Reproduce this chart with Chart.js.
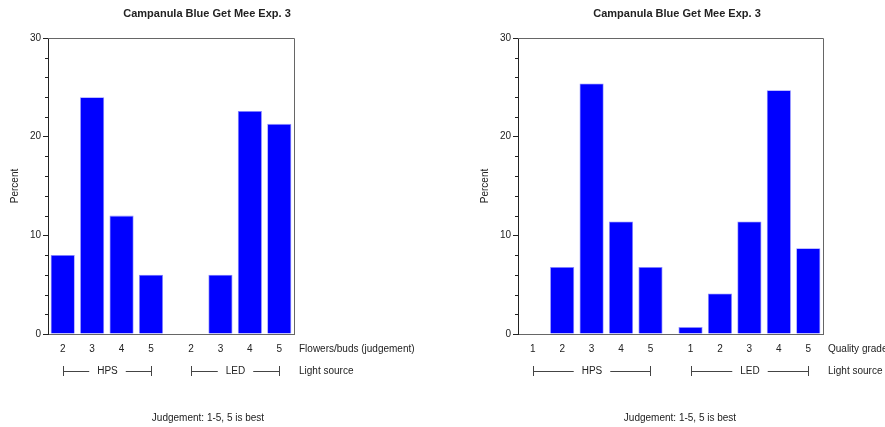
<!DOCTYPE html>
<html>
<head>
<meta charset="utf-8">
<script src="https://cdn.jsdelivr.net/npm/chart.js@4.4.0/dist/chart.umd.min.js"></script>
<style>
  body { margin: 0; background: #fff; width: 885px; height: 427px; position: relative; overflow: hidden; }
  canvas { position: absolute; top: 0; }
  #leftChart { left: 0; }
  #rightChart { left: 442px; }
</style>
</head>
<body>
<canvas id="leftChart" width="442" height="427"></canvas>
<canvas id="rightChart" width="443" height="427"></canvas>
<script>
// data
const chartTitle = "Campanula Blue Get Mee Exp. 3";
const footnote = "Judgement: 1-5, 5 is best";
const lightSources = ["HPS", "LED"];

const flowerGrades = ["2", "3", "4", "5"];
const flowerHPS = [8, 24, 12, 6];
const flowerLED = [0, 6, 22.6, 21.3];

const qualityGrades = ["1", "2", "3", "4", "5"];
const qualityHPS = [0, 6.8, 25.4, 11.4, 6.8];
const qualityLED = [0.7, 4.1, 11.4, 24.7, 8.7];

const yMax = 30;

const FONT = "'Liberation Sans', Arial, sans-serif";
const TEXT = "#222";
const GROUP_GAP = 0.36; // extra space between the HPS and LED blocks, in bar slots

const buildChart = (canvasId, grades, groupValues, gradeTitle, pad, titleX, noteX) => {
  const n = grades.length;
  const pos = (g, i) => g * (n + GROUP_GAP) + i;

  // bars as {x, y} so the linear x scale can leave a gap between the groups
  const points = [];
  const tickLabels = {};
  groupValues.forEach((vals, g) => {
    vals.forEach((v, i) => {
      points.push({ x: pos(g, i), y: v });
      tickLabels[pos(g, i).toFixed(2)] = grades[i];
    });
  });
  const tickValues = points.map((p) => p.x);

  const extras = {
    id: "extras",
    afterDraw(chart) {
      const { ctx, chartArea: a } = chart;
      const xs = chart.scales.x;
      const ys = chart.scales.y;
      ctx.save();
      // top and right frame
      ctx.strokeStyle = "#666";
      ctx.lineWidth = 1;
      ctx.beginPath();
      ctx.moveTo(a.left, a.top + 0.5);
      ctx.lineTo(a.right + 0.5, a.top + 0.5);
      ctx.lineTo(a.right + 0.5, a.bottom);
      ctx.stroke();

      // short minor ticks on the y axis
      ctx.strokeStyle = "#222";
      ctx.beginPath();
      ys.ticks.forEach((t) => {
        if (t.value % 10 === 0) return;
        const py = Math.round(ys.getPixelForValue(t.value)) + 0.5;
        ctx.moveTo(a.left - 3, py);
        ctx.lineTo(a.left, py);
      });
      ctx.stroke();

      ctx.fillStyle = TEXT;
      ctx.textBaseline = "middle";
      ctx.textAlign = "center";
      ctx.font = "bold 11px " + FONT;
      ctx.fillText(chartTitle, titleX, 14);
      ctx.font = "10px " + FONT;
      ctx.fillText(footnote, noteX, 418);

      ctx.textAlign = "left";
      ctx.fillText(gradeTitle, a.right + 5, a.bottom + 15);
      ctx.fillText("Light source", a.right + 5, a.bottom + 37);

      // group brackets  |---- HPS ----|
      const y = a.bottom + 37;
      ctx.strokeStyle = "#444";
      lightSources.forEach((name, g) => {
        const x1 = Math.round(xs.getPixelForValue(pos(g, 0))) + 0.5;
        const x2 = Math.round(xs.getPixelForValue(pos(g, n - 1))) + 0.5;
        const mid = (x1 + x2) / 2;
        const w = ctx.measureText(name).width;
        ctx.beginPath();
        ctx.moveTo(x1, y - 5); ctx.lineTo(x1, y + 5);
        ctx.moveTo(x2, y - 5); ctx.lineTo(x2, y + 5);
        ctx.moveTo(x1, y + 0.5); ctx.lineTo(mid - w / 2 - 8, y + 0.5);
        ctx.moveTo(mid + w / 2 + 8, y + 0.5); ctx.lineTo(x2, y + 0.5);
        ctx.stroke();
        ctx.textAlign = "center";
        ctx.fillText(name, mid, y);
      });
      ctx.restore();
    },
  };

  return new Chart(document.getElementById(canvasId), {
    type: "bar",
    data: {
      datasets: [
        {
          data: points,
          backgroundColor: "#0000ff",
          borderColor: "#8c8cff",
          borderWidth: 0.8,
          barPercentage: 0.82,
          categoryPercentage: 1,
        },
      ],
    },
    options: {
      responsive: false,
      animation: false,
      devicePixelRatio: 1,
      layout: { padding: pad },
      plugins: {
        legend: { display: false },
        tooltip: { enabled: false },
      },
      scales: {
        x: {
          type: "linear",
          offset: false,
          min: -0.5,
          max: pos(groupValues.length - 1, n - 1) + 0.5,
          afterBuildTicks: (scale) => {
            scale.ticks = tickValues.map((v) => ({ value: v }));
          },
          afterFit: (scale) => { scale.height = 20; },
          ticks: {
            autoSkip: false,
            maxRotation: 0,
            padding: 9,
            color: TEXT,
            font: { family: FONT, size: 10 },
            callback: (v) => tickLabels[Number(v).toFixed(2)] || "",
          },
          grid: { display: false, drawTicks: false },
          border: { display: true, color: "#666" },
        },
        y: {
          min: 0,
          max: yMax,
          afterFit: (scale) => { scale.width = 48; },
          ticks: {
            stepSize: 2,
            autoSkip: false,
            padding: 2,
            color: TEXT,
            font: { family: FONT, size: 10 },
            callback: (v) => (v % 10 === 0 ? v : ""),
          },
          grid: {
            drawOnChartArea: false,
            drawTicks: true,
            tickLength: 5,
            tickColor: (c) => (c.tick && c.tick.value % 10 === 0 ? "#222" : "rgba(0,0,0,0)"),
          },
          border: { display: true, color: "#222" },
          title: {
            display: true,
            text: "Percent",
            color: TEXT,
            font: { family: FONT, size: 10 },
            padding: { top: 9, bottom: 0 },
          },
        },
      },
    },
    plugins: [extras],
  });
};

buildChart("leftChart", flowerGrades, [flowerHPS, flowerLED], "Flowers/buds (judgement)",
  { left: 0, right: 148, top: 38, bottom: 73 }, 207, 208);
buildChart("rightChart", qualityGrades, [qualityHPS, qualityLED], "Quality grade",
  { left: 28, right: 62, top: 38, bottom: 73 }, 235, 238);
</script>
</body>
</html>
